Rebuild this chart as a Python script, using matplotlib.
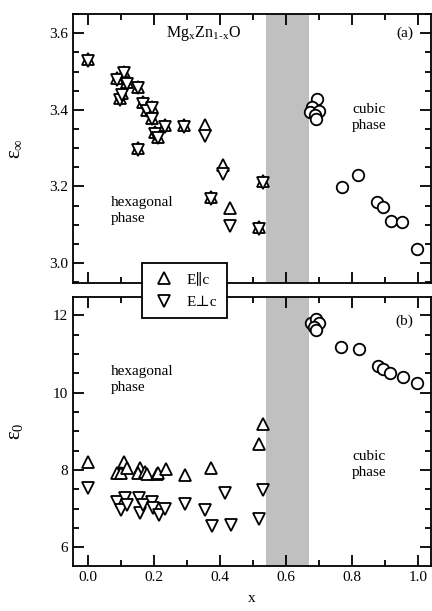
import matplotlib
matplotlib.use("Agg")
import matplotlib.pyplot as plt
from matplotlib.ticker import MultipleLocator

plt.rcParams['font.family'] = ['Liberation Serif', 'DejaVu Serif']
plt.rcParams['mathtext.fontset'] = 'stix'

# high-frequency dielectric constant, hexagonal phase (both polarisations)
x_inf_hex_par = [0.0, 0.088, 0.097, 0.103, 0.109, 0.118, 0.152, 0.167, 0.179, 0.194,
                 0.194, 0.203, 0.212, 0.233, 0.152, 0.29, 0.355, 0.373, 0.41, 0.43, 0.53, 0.52]
eps_inf_par = [3.532, 3.483, 3.43, 3.443, 3.499, 3.472, 3.46, 3.42, 3.40, 3.408,
               3.38, 3.342, 3.33, 3.36, 3.30, 3.36, 3.36, 3.172, 3.255, 3.143, 3.213, 3.094]
x_inf_hex_perp = [0.0, 0.088, 0.097, 0.103, 0.109, 0.118, 0.152, 0.167, 0.179, 0.194,
                  0.194, 0.203, 0.212, 0.233, 0.152, 0.29, 0.355, 0.373, 0.41, 0.43, 0.53, 0.52]
eps_inf_perp = [3.528, 3.478, 3.426, 3.438, 3.495, 3.468, 3.456, 3.416, 3.396, 3.404,
                3.376, 3.338, 3.326, 3.356, 3.296, 3.356, 3.332, 3.168, 3.232, 3.096, 3.209, 3.09]
# cubic phase
x_inf_cub = [0.694, 0.68, 0.673, 0.70, 0.688, 0.69, 0.77, 0.818, 0.876, 0.894, 0.918, 0.951, 0.997]
eps_inf_cub = [3.428, 3.407, 3.394, 3.397, 3.386, 3.376, 3.198, 3.23, 3.159, 3.146, 3.109, 3.107, 3.038]

# static dielectric constant
x0_par = [0.0, 0.109, 0.087, 0.10, 0.12, 0.157, 0.152, 0.173, 0.18, 0.208, 0.212,
          0.238, 0.294, 0.373, 0.52, 0.53]
eps0_par = [8.2, 8.2, 7.92, 7.92, 8.04, 8.04, 7.92, 7.95, 7.9, 7.9, 7.92,
            8.03, 7.87, 8.05, 8.67, 9.18]
x0_perp = [0.0, 0.087, 0.10, 0.112, 0.12, 0.155, 0.157, 0.167, 0.193, 0.197, 0.215,
           0.233, 0.294, 0.355, 0.375, 0.415, 0.433, 0.53, 0.52]
eps0_perp = [7.53, 7.17, 6.96, 7.27, 7.09, 7.27, 6.9, 7.09, 7.17, 7.01, 6.83,
             7.0, 7.12, 6.97, 6.55, 7.4, 6.57, 7.48, 6.73]
x0_cub = [0.676, 0.69, 0.70, 0.685, 0.69, 0.767, 0.82, 0.879, 0.894, 0.915, 0.955, 0.997]
eps0_cub = [11.79, 11.9, 11.8, 11.7, 11.62, 11.17, 11.12, 10.68, 10.6, 10.5, 10.4, 10.24]

two_phase = (0.54, 0.67)

fig = plt.figure(figsize=(4.32, 6.11), dpi=100)
ax1 = fig.add_axes([0.169, 0.5368, 0.829, 0.4402])
ax2 = fig.add_axes([0.169, 0.0736, 0.829, 0.4404])

mk = dict(ms=8.3, mfc='white', mec='black', mew=1.3, ls='none')
lw = 1.3

for ax in (ax1, ax2):
    ax.axvspan(*two_phase, color='#c0c0c0', lw=0, zorder=0)
    ax.set_xlim(-0.045, 1.04)
    ax.xaxis.set_major_locator(MultipleLocator(0.2))
    ax.xaxis.set_minor_locator(MultipleLocator(0.1))
    ax.tick_params(which='both', direction='in', top=True, right=True,
                   labelsize=11, width=lw)
    ax.tick_params(which='major', length=8)
    ax.tick_params(which='minor', length=4)
    for s in ax.spines.values():
        s.set_linewidth(lw)

h_par, = ax1.plot(x_inf_hex_par, eps_inf_par, marker='^', **mk)
h_perp, = ax1.plot(x_inf_hex_perp, eps_inf_perp, marker='v', **mk)
ax1.plot(x_inf_cub, eps_inf_cub, marker='o', **mk)
ax1.set_ylim(2.948, 3.65)
ax1.yaxis.set_major_locator(MultipleLocator(0.2))
ax1.yaxis.set_minor_locator(MultipleLocator(0.05))
ax1.tick_params(labelbottom=False)
ax1.set_ylabel(r'$\mathregular{ε_∞}$', fontsize=15)
ax1.yaxis.set_label_coords(-0.135, 0.5)
ax1.text(0.35, 3.6, r'Mg$_\mathregular{x}$Zn$_\mathregular{1\text{-}x}$O', fontsize=11.5,
         ha='center', va='center')
ax1.text(0.96, 3.6, '(a)', fontsize=11, ha='center', va='center')
ax1.text(0.068, 3.137, 'hexagonal\nphase', fontsize=11, ha='left', va='center',
         linespacing=1.3)
ax1.text(0.8, 3.38, 'cubic\nphase', fontsize=11, ha='left', va='center',
         linespacing=1.3)

ax2.plot(x0_par, eps0_par, marker='^', **mk)
ax2.plot(x0_perp, eps0_perp, marker='v', **mk)
ax2.plot(x0_cub, eps0_cub, marker='o', **mk)
ax2.set_ylim(5.52, 12.47)
ax2.yaxis.set_major_locator(MultipleLocator(2))
ax2.yaxis.set_minor_locator(MultipleLocator(0.5))
ax2.set_ylabel(r'$\mathregular{ε_0}$', fontsize=15)
ax2.yaxis.set_label_coords(-0.135, 0.5)
ax2.set_xlabel('x', fontsize=11, labelpad=6)
ax2.text(0.96, 11.85, '(b)', fontsize=11, ha='center', va='center')
ax2.text(0.068, 10.35, 'hexagonal\nphase', fontsize=11, ha='left', va='center',
         linespacing=1.3)
ax2.text(0.8, 8.15, 'cubic\nphase', fontsize=11, ha='left', va='center',
         linespacing=1.3)

leg = fig.legend([h_par, h_perp], ['E\u2225c', 'E\u22a5c'], loc='center',
                 bbox_to_anchor=(184.5 / 432, 1 - 290.5 / 611), fontsize=11,
                 fancybox=False, framealpha=1, edgecolor='black',
                 handletextpad=0.7, borderpad=0.6, labelspacing=0.6,
                 handlelength=1.6)
leg.get_frame().set_linewidth(lw)

fig.savefig('out.png', dpi=100)
